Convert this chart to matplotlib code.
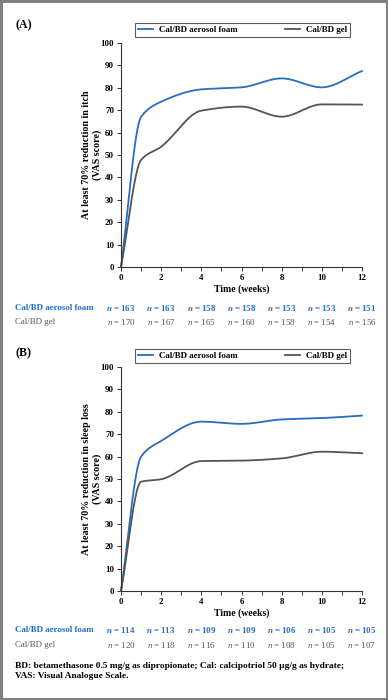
"""
Itch and sleep-loss response over time: Cal/BD aerosol foam vs Cal/BD gel
"""
import numpy as np
import matplotlib.pyplot as plt
from matplotlib.lines import Line2D
from matplotlib.transforms import blended_transform_factory

plt.rcParams['font.family'] = ['Liberation Serif', 'DejaVu Serif']
plt.rcParams['mathtext.fontset'] = 'custom'
plt.rcParams['mathtext.it'] = 'Liberation Serif:italic'
plt.rcParams['mathtext.bf'] = 'Liberation Serif:bold'
plt.rcParams['mathtext.bfit'] = 'Liberation Serif:italic:bold'
plt.rcParams['mathtext.rm'] = 'Liberation Serif'

# data
weeks = [0, 1, 2, 4, 6, 8, 10, 12]
itch_foam = [0, 67, 73.8, 79.3, 80.2, 84.2, 80.2, 87.5]
itch_gel = [0, 47.8, 53.7, 69.8, 71.6, 67.1, 72.6, 72.5]
sleep_foam = [0, 60, 67, 75.6, 74.6, 76.6, 77.2, 78.3]
sleep_gel = [0, 48.8, 49.9, 58, 58.2, 59.2, 62.2, 61.5]

n_weeks = [0, 2, 4, 6, 8, 10, 12]
itch_n_foam = [163, 163, 158, 158, 153, 153, 151]
itch_n_gel = [170, 167, 165, 160, 158, 154, 156]
sleep_n_foam = [114, 113, 109, 109, 106, 105, 105]
sleep_n_gel = [120, 118, 116, 110, 108, 105, 107]

FOAM = '#2a6cbf'
GEL = '#555555'
FS = 6.4


def smooth(xs, ys, steps=40):
    # monotone cubic (Fritsch-Carlson) through the measured points
    x = np.asarray(xs, float)
    y = np.asarray(ys, float)
    h = np.diff(x)
    d = np.diff(y) / h
    m = np.zeros_like(y)
    m[0], m[-1] = d[0], d[-1]
    for i in range(1, len(x) - 1):
        if d[i - 1] * d[i] > 0:
            w1 = 2 * h[i] + h[i - 1]
            w2 = h[i] + 2 * h[i - 1]
            m[i] = (w1 + w2) / (w1 / d[i - 1] + w2 / d[i])
    xo, yo = [], []
    for i in range(len(x) - 1):
        t = np.linspace(0, 1, steps)
        h00 = 2 * t ** 3 - 3 * t ** 2 + 1
        h10 = t ** 3 - 2 * t ** 2 + t
        h01 = -2 * t ** 3 + 3 * t ** 2
        h11 = t ** 3 - t ** 2
        xo.append(x[i] + t * h[i])
        yo.append(h00 * y[i] + h10 * h[i] * m[i] + h01 * y[i + 1] + h11 * h[i] * m[i + 1])
    return np.concatenate(xo), np.concatenate(yo)


W, H = 388, 700
fig = plt.figure(figsize=(W / 100, H / 100), dpi=100)
fig.patch.set_edgecolor('#808080')
fig.patch.set_linewidth(2.5)


def fx(px):
    return px / W


def fy(py):
    return 1 - py / H


panels = [
    dict(tag='(A)', top=43, foam=itch_foam, gel=itch_gel, nf=itch_n_foam, ng=itch_n_gel,
         ylabel='At least 70% reduction in itch\n(VAS score)', leg=(19, 37), tagy=25,
         nrows=(308, 322)),
    dict(tag='(B)', top=367, foam=sleep_foam, gel=sleep_gel, nf=sleep_n_foam, ng=sleep_n_gel,
         ylabel='At least 70% reduction in sleep loss\n(VAS score)', leg=(346, 363), tagy=353,
         nrows=(630, 645)),
]

for pn in panels:
    ax = fig.add_axes([fx(121), fy(pn['top'] + 224), fx(241), 224 / H])
    x, y = smooth(weeks, pn['foam'])
    ax.plot(x, y, color=FOAM, lw=1.3, clip_on=False)
    x, y = smooth(weeks, pn['gel'])
    ax.plot(x, y, color=GEL, lw=1.3, clip_on=False)
    ax.set_xlim(0, 12)
    ax.set_ylim(0, 100)
    ax.set_xticks(range(0, 13, 2))
    ax.set_xticks(range(1, 13, 2), minor=True)
    ax.set_yticks(range(0, 101, 10))
    for s in ['top', 'right']:
        ax.spines[s].set_visible(False)
    for s in ['left', 'bottom']:
        ax.spines[s].set_color('#333333')
        ax.spines[s].set_linewidth(0.8)
    ax.tick_params(which='both', length=3, width=0.7, color='#333333', labelsize=FS, pad=2)
    for lab in ax.get_xticklabels() + ax.get_yticklabels():
        lab.set_fontweight('bold')
    ax.set_xlabel('Time (weeks)', fontsize=FS + 0.6, fontweight='bold', labelpad=2)
    ax.set_ylabel(pn['ylabel'], fontsize=FS + 0.8, fontweight='bold', linespacing=1.15)
    ax.yaxis.set_label_coords(-0.08, 0.5)

    fig.text(fx(15), fy(pn['tagy']), pn['tag'], fontsize=FS + 2.2, fontweight='bold', va='center')

    handles = [Line2D([], [], color=FOAM, lw=1.3), Line2D([], [], color=GEL, lw=1.3)]
    l0, l1 = pn['leg']
    leg = fig.legend(handles, ['Cal/BD aerosol foam', 'Cal/BD gel'], loc='lower left',
                     bbox_to_anchor=(fx(135), fy(l1), fx(215), (l1 - l0) / H), mode='expand',
                     ncol=2, fancybox=False, borderaxespad=0, handlelength=1.7,
                     handletextpad=0.6, prop=dict(size=FS, weight='bold'), borderpad=0.35)
    leg.get_frame().set_edgecolor('#333333')
    leg.get_frame().set_linewidth(0.8)

    tr = blended_transform_factory(ax.transData, fig.transFigure)
    ry_f, ry_g = pn['nrows']
    fig.text(fx(15), fy(ry_f), 'Cal/BD aerosol foam', color=FOAM, fontsize=FS,
             fontweight='bold', va='center')
    fig.text(fx(15), fy(ry_g), 'Cal/BD gel', color=GEL, fontsize=FS, va='center')
    for wk, nf, ng in zip(n_weeks, pn['nf'], pn['ng']):
        fig.text(wk, fy(ry_f), r'$\mathbfit{n}$ = %d' % nf, transform=tr, color=FOAM,
                 fontsize=FS, fontweight='bold', ha='center', va='center')
        fig.text(wk, fy(ry_g), r'$\mathit{n}$ = %d' % ng, transform=tr, color=GEL,
                 fontsize=FS, ha='center', va='center')

fig.text(fx(15), fy(671), 'BD: betamethasone 0.5 mg/g as dipropionate; Cal: calcipotriol 50 µg/g as hydrate;\n'
         'VAS: Visual Analogue Scale.', fontsize=FS + 0.35, fontweight='bold', va='center', linespacing=1.25)

plt.savefig('out.png', dpi=100)
